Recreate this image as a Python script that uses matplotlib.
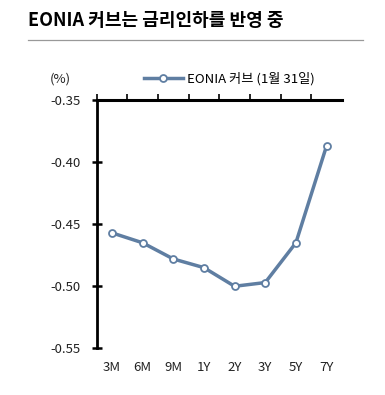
import matplotlib
matplotlib.use("Agg")
from matplotlib import pyplot as plt
from matplotlib.ticker import FormatStrFormatter
import numpy as np

plt.rcParams['font.family'] = ['Noto Sans CJK KR', 'DejaVu Sans']

# EONIA curve (31 Jan)
tenors = ['3M', '6M', '9M', '1Y', '2Y', '3Y', '5Y', '7Y']
rates = [-0.457, -0.465, -0.478, -0.485, -0.500, -0.497, -0.465, -0.387]
yticks = [-0.55, -0.50, -0.45, -0.40, -0.35]

title = 'EONIA 커브는 금리인하를 반영 중'
series_name = 'EONIA 커브 (1월 31일)'
line_color = '#5f7ea2'

fig = plt.figure(figsize=(3.85, 3.95), dpi=100)
ax = fig.add_axes([0.251, 0.118, 0.637, 0.629])

x = np.arange(len(tenors))
ax.plot(x, rates, color=line_color, lw=2.5, marker='o', ms=5,
        markerfacecolor='white', markeredgecolor=line_color, markeredgewidth=1.3,
        label=series_name)

ax.set_xlim(-0.5, len(tenors) - 0.5)
ax.set_ylim(-0.55, -0.35)

# category axis sits on top (values are all negative)
for s in ['right', 'bottom']:
    ax.spines[s].set_visible(False)
ax.spines['top'].set_linewidth(2.2)
ax.spines['left'].set_linewidth(2)

ax.set_xticks(x)
ax.set_xticklabels(tenors)
ax.tick_params(axis='x', which='major', length=0, pad=9, labelsize=9.5, colors='#222222')
ax.set_xticks(np.arange(-0.5, len(tenors) - 0.5, 1.0), minor=True)
ax.tick_params(axis='x', which='minor', top=True, bottom=False, direction='out',
               length=4, width=1.2)

ax.set_yticks(yticks)
ax.yaxis.set_major_formatter(FormatStrFormatter('%.2f'))
ax.tick_params(axis='y', direction='inout', length=7, width=1.8, pad=8,
               labelsize=9.5, colors='black', labelcolor='#222222')

fig.text(0.073, 0.948, title, fontsize=13, fontweight='bold', va='center')
fig.add_artist(plt.Line2D([0.073, 0.943], [0.898, 0.898], color='#999999', lw=0.9))
fig.text(0.128, 0.80, '(%)', fontsize=9.5, va='center', color='#222222')

ax.legend(loc='center left', bbox_to_anchor=(0.17, 1.085), frameon=False,
          fontsize=9.5, handlelength=3.0, handletextpad=0.3, borderaxespad=0)

fig.savefig('out.png', dpi=100)
